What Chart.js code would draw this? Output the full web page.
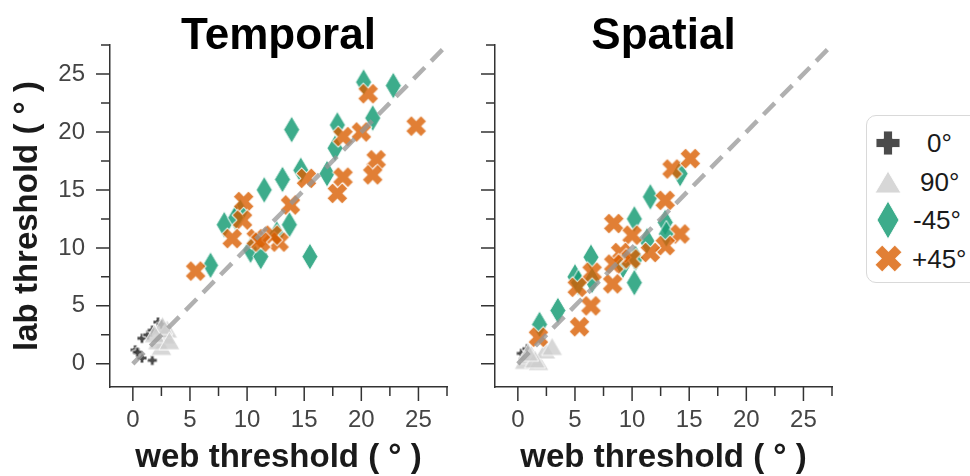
<!DOCTYPE html>
<html>
<head>
<meta charset="utf-8">
<script src="https://cdn.jsdelivr.net/npm/chart.js@4.4.1/dist/chart.umd.min.js"></script>
<style>
body { margin:0; width:970px; height:476px; background:#fff; overflow:hidden; position:relative; font-family:'Liberation Sans', Arial, sans-serif; }
canvas { position:absolute; top:0; }
#legend { position:absolute; left:866px; top:115px; width:120px; height:168px; border:1.5px solid #d9d9d9; border-radius:10px; box-sizing:border-box; }
#legend canvas { position:absolute; }
#legend span { position:absolute; font-size:26px; line-height:30px; color:#1a1a1a; white-space:nowrap; }
</style>
</head>
<body>
<canvas id="temporalChart" width="453" height="476" style="left:0"></canvas>
<canvas id="spatialChart" width="378" height="476" style="left:460px"></canvas>
<div id="legend"></div>
<script>
// tick values and labels
const tickValues = [0, 2.5, 5, 7.5, 10, 12.5, 15, 17.5, 20, 22.5, 25, 27.5];
const refLine = [0, 27.5];
const seriesLabels = ['0°', '90°', '-45°', '+45°'];

// Temporal panel
const temporalWeb0 = [0.2, 0.8, 1.3, 1.7, 2.2, 2.5, 1.7, 0.8, 0.4];
const temporalLab0 = [1.2, 2.2, 2.5, 2.9, 3.6, 3.4, 0.3, 0.5, 1.0];
const temporalWeb90 = [2.5, 2.8, 2.2, 3.0, 2.6, 1.9, 3.2];
const temporalLab90 = [1.5, 2.5, 2.0, 3.0, 3.3, 2.6, 2.0];
const temporalWebM45 = [20.2, 22.8, 13.9, 17.9, 21.0, 17.7, 17.0, 14.7, 13.1, 11.5, 9.4, 8.0, 13.7, 10.3, 11.2, 15.5, 6.8, 9.0, 12.6];
const temporalLabM45 = [24.3, 24.0, 20.2, 20.6, 21.2, 18.6, 16.4, 16.7, 15.9, 15.0, 13.1, 12.0, 12.0, 9.8, 9.25, 9.25, 8.5, 12.6, 11.2];
const temporalWebP45 = [20.6, 24.8, 18.4, 20.0, 21.3, 21.0, 18.4, 17.9, 15.2, 13.8, 9.7, 9.6, 8.7, 10.8, 12.8, 12.2, 11.2, 5.5];
const temporalLabP45 = [23.3, 20.5, 19.6, 20.0, 17.6, 16.3, 16.1, 14.7, 16.0, 13.7, 14.0, 12.4, 10.8, 10.8, 10.5, 11.1, 10.5, 8.0];

// Spatial panel
const spatialWeb0 = [0.3, 0.5, 0.8];
const spatialLab0 = [0.9, 0.4, 1.3];
const spatialWeb90 = [0.6, 1.2, 1.8, 2.4, 3.0, 1.5, 0.9];
const spatialLab90 = [0.3, 0.8, 0.2, 1.2, 1.5, 0.4, 1.0];
const spatialWebM45 = [14.2, 11.6, 10.2, 12.9, 11.3, 10.3, 10.2, 6.4, 5.0, 6.5, 3.5, 1.9, 13.0, 9.2, 5.3];
const spatialLabM45 = [16.4, 14.4, 12.5, 12.2, 10.6, 9.1, 7.0, 9.2, 7.5, 7.2, 4.6, 3.4, 11.2, 8.5, 7.0];
const spatialWebP45 = [13.5, 15.1, 12.9, 8.4, 14.2, 10.0, 12.9, 11.6, 9.0, 8.4, 9.9, 6.5, 5.2, 8.3, 6.4, 5.4, 1.8];
const spatialLabP45 = [16.8, 17.7, 14.1, 12.1, 11.2, 11.1, 10.2, 9.6, 9.6, 8.6, 9.05, 7.9, 6.6, 6.9, 5.0, 3.2, 2.3];

const FONT = "'Liberation Sans', Arial, sans-serif";
const colors = ['rgba(55,55,55,0.9)', 'rgba(205,205,205,0.8)', 'rgba(27,158,119,0.85)', 'rgba(217,95,2,0.8)'];

// draw a marker shape into a small canvas, used as pointStyle
function marker(kind, color, w, h) {
    const c = document.createElement('canvas');
    c.width = Math.ceil(w) + 4;
    c.height = Math.ceil(h) + 4;
    const g = c.getContext('2d');
    g.translate(c.width / 2, c.height / 2);
    g.beginPath();
    if (kind === 'diamond') {
        g.moveTo(0, -h / 2); g.lineTo(w / 2, 0); g.lineTo(0, h / 2); g.lineTo(-w / 2, 0);
    } else if (kind === 'triangle') {
        g.moveTo(0, -h / 2); g.lineTo(w / 2, h / 2); g.lineTo(-w / 2, h / 2);
    } else {
        let a = w / 2, t = w * 0.19;
        if (kind === 'x') {
            g.rotate(Math.PI / 4);
            a = w / 2 * Math.SQRT2 - t;
        }
        const pts = [[-t,-a],[t,-a],[t,-t],[a,-t],[a,t],[t,t],[t,a],[-t,a],[-t,t],[-a,t],[-a,-t],[-t,-t]];
        pts.forEach((p, i) => i ? g.lineTo(p[0], p[1]) : g.moveTo(p[0], p[1]));
    }
    g.closePath();
    g.fillStyle = color;
    g.fill();
    g.strokeStyle = 'rgba(255,255,255,0.9)';
    g.lineWidth = 1;
    g.stroke();
    return c;
}

const plotMarkers = [
    marker('plus', colors[0], 10, 10),
    marker('triangle', colors[1], 21, 18),
    marker('diamond', colors[2], 16, 27),
    marker('x', colors[3], 21, 21)
];
const legendMarkers = [
    marker('plus', colors[0], 24, 24),
    marker('triangle', colors[1], 26, 22),
    marker('diamond', colors[2], 22, 38),
    marker('x', colors[3], 27, 27)
];

// tick marks: long on labelled values, short in between
const tickMarks = {
    id: 'tickMarks',
    afterDraw(chart) {
        const ctx = chart.ctx, area = chart.chartArea;
        ctx.save();
        ctx.strokeStyle = '#333';
        ctx.lineWidth = 1.5;
        ctx.beginPath();
        tickValues.forEach(v => {
            const len = v % 5 === 0 ? 14 : 9;
            const px = chart.scales.x.getPixelForValue(v);
            const py = chart.scales.y.getPixelForValue(v);
            ctx.moveTo(px, area.bottom); ctx.lineTo(px, area.bottom + len);
            ctx.moveTo(area.left, py); ctx.lineTo(area.left - len, py);
        });
        ctx.stroke();
        ctx.restore();
    }
};

function points(web, lab) {
    return web.map((w, i) => ({x: w, y: lab[i]}));
}

function panel(id, title, series, showY) {
    return new Chart(document.getElementById(id), {
        type: 'scatter',
        data: {
            datasets: [{
                type: 'line',
                data: refLine.map(v => ({x: v, y: v})),
                borderColor: 'rgba(150,150,150,0.75)',
                borderWidth: 4.5,
                borderDash: [16, 9],
                pointRadius: 0,
                order: 0
            }].concat(series.map((s, i) => ({
                label: seriesLabels[i],
                data: points(s[0], s[1]),
                pointStyle: plotMarkers[i],
                pointRadius: 5,
                order: 4 - i
            })))
        },
        options: {
            responsive: false,
            animation: false,
            events: [],
            layout: {padding: {right: 4}},
            plugins: {
                legend: {display: false},
                tooltip: {enabled: false},
                title: {
                    display: true, text: title, fullSize: false, color: '#000',
                    font: {family: FONT, size: 44, weight: 'bold', lineHeight: '16px'},
                    padding: {top: 29, bottom: 0}
                }
            },
            scales: {
                x: {
                    type: 'linear', min: -2, max: 27.5,
                    afterBuildTicks: s => { s.ticks = tickValues.map(v => ({value: v})); },
                    afterFit: s => { s.height = 89; },
                    grid: {display: false, drawTicks: false},
                    border: {display: true, color: '#333', width: 1.5},
                    ticks: {autoSkip: false, maxRotation: 0, padding: 0, color: '#444',
                        font: {family: FONT, size: 24, lineHeight: '67px'},
                        callback: v => v % 5 === 0 ? v : ''},
                    title: {display: true, text: 'web threshold ( ° )', color: '#1a1a1a',
                        font: {family: FONT, size: 33, weight: 'bold', lineHeight: 1.1},
                        padding: {top: 0, bottom: 0}}
                },
                y: {
                    type: 'linear', min: -2, max: 27.5,
                    afterBuildTicks: s => { s.ticks = tickValues.map(v => ({value: v})); },
                    afterFit: s => { s.width = showY ? 110 : 35; },
                    grid: {display: false, drawTicks: false},
                    border: {display: true, color: '#333', width: 1.5},
                    ticks: {display: showY, autoSkip: false, padding: 25, color: '#444',
                        font: {family: FONT, size: 24},
                        callback: v => v % 5 === 0 ? v : ''},
                    title: {display: showY, text: 'lab threshold ( ° )', color: '#1a1a1a',
                        font: {family: FONT, size: 33, weight: 'bold'},
                        padding: {top: 8, bottom: 0}}
                }
            }
        },
        plugins: [tickMarks]
    });
}

panel('temporalChart', 'Temporal', [
    [temporalWeb0, temporalLab0],
    [temporalWeb90, temporalLab90],
    [temporalWebM45, temporalLabM45],
    [temporalWebP45, temporalLabP45]
], true);

panel('spatialChart', 'Spatial', [
    [spatialWeb0, spatialLab0],
    [spatialWeb90, spatialLab90],
    [spatialWebM45, spatialLabM45],
    [spatialWebP45, spatialLabP45]
], false);

// legend
const legend = document.getElementById('legend');
const textLeft = [60, 53, 46, 45];
seriesLabels.forEach((label, i) => {
    const cy = 27 + i * 38.5;
    const m = legendMarkers[i];
    m.style.left = (21 - m.width / 2) + 'px';
    m.style.top = (cy - m.height / 2) + 'px';
    legend.appendChild(m);
    const t = document.createElement('span');
    t.textContent = label;
    t.style.left = textLeft[i] + 'px';
    t.style.top = (cy - 15) + 'px';
    legend.appendChild(t);
});
</script>
</body>
</html>
